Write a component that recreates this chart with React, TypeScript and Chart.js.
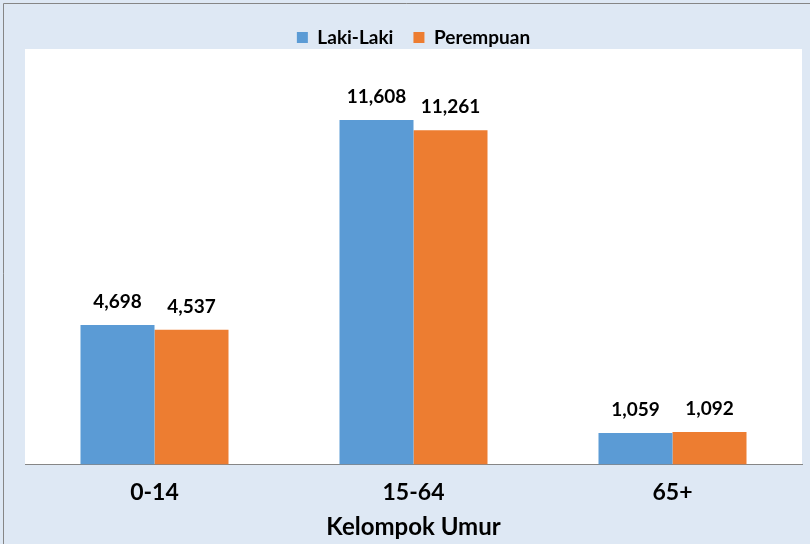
import React, { useEffect, useRef } from "react";
import { Chart, registerables } from "chart.js";

Chart.register(...registerables);

const categories = ["0-14", "15-64", "65+"];
const lakiLaki = [4698, 11608, 1059];
const perempuan = [4537, 11261, 1092];
const seriesNames = ["Laki-Laki", "Perempuan"];
const axisTitle = "Kelompok Umur";

const FONT = "Lato, 'Open Sans', sans-serif";

const bgPlugin = {
  id: "bgPlugin",
  beforeDraw(chart: any) {
    const { ctx, width, height, chartArea } = chart;
    ctx.save();
    ctx.fillStyle = "#dee8f4";
    ctx.fillRect(0, 0, width, height);
    ctx.fillStyle = "#ffffff";
    ctx.fillRect(chartArea.left, chartArea.top, chartArea.right - chartArea.left, chartArea.bottom - chartArea.top);
    ctx.strokeStyle = "#868686";
    ctx.lineWidth = 1;
    ctx.beginPath();
    ctx.moveTo(3.5, height);
    ctx.lineTo(3.5, 3.5);
    ctx.lineTo(width, 3.5);
    ctx.stroke();
    ctx.restore();
  },
};

const shiftLegend = {
  id: "shiftLegend",
  afterLayout(chart: any) {
    if (chart.legend) {
      chart.legend.top += 8;
      chart.legend.bottom += 8;
    }
  },
};

const labelPlugin = {
  id: "labelPlugin",
  afterDatasetsDraw(chart: any) {
    const { ctx } = chart;
    ctx.save();
    ctx.font = `bold 19px ${FONT}`;
    ctx.fillStyle = "#000000";
    ctx.textAlign = "center";
    ctx.textBaseline = "middle";
    chart.data.datasets.forEach((ds: any, i: number) => {
      const meta = chart.getDatasetMeta(i);
      meta.data.forEach((bar: any, j: number) => {
        const v = ds.data[j] as number;
        ctx.fillText(v.toLocaleString("en-US"), bar.x, bar.y - 23);
      });
    });
    ctx.restore();
  },
};

export default function App() {
  const ref = useRef<HTMLCanvasElement>(null);
  useEffect(() => {
    document.body.style.margin = "0";
    const chart = new Chart(ref.current as HTMLCanvasElement, {
      type: "bar",
      data: {
        labels: categories,
        datasets: [
          { label: seriesNames[0], data: lakiLaki, backgroundColor: "#5b9bd5", borderWidth: 0 },
          { label: seriesNames[1], data: perempuan, backgroundColor: "#ed7d31", borderWidth: 0 },
        ],
      },
      options: {
        animation: false,
        responsive: false,
        maintainAspectRatio: false,
        layout: { padding: { left: 25, right: 8, top: 0, bottom: 0 } },
        datasets: { bar: { categoryPercentage: 148 / 259, barPercentage: 1 } },
        plugins: {
          legend: {
            position: "top",
            labels: {
              boxWidth: 11,
              boxHeight: 11,
              padding: 20,
              color: "#000000",
              font: { family: FONT, size: 19, weight: "bold" },
            },
          },
          tooltip: { enabled: false },
        },
        scales: {
          x: {
            grid: { display: false, drawTicks: false },
            border: { display: true, color: "#868686", width: 1 },
            ticks: {
              color: "#000000",
              padding: 14,
              font: { family: FONT, size: 23, weight: "bold" },
            },
            title: {
              display: true,
              text: axisTitle,
              color: "#000000",
              padding: { top: -5, bottom: 5 },
              font: { family: FONT, size: 24, weight: "bold", lineHeight: 1 },
            },
          },
          y: {
            display: false,
            min: 0,
            max: 14000,
          },
        },
      },
      plugins: [bgPlugin, shiftLegend, labelPlugin],
    });
    return () => chart.destroy();
  }, []);
  return (
    <div style={{ width: 810, height: 544 }}>
      <canvas ref={ref} width={810} height={544} />
    </div>
  );
}
